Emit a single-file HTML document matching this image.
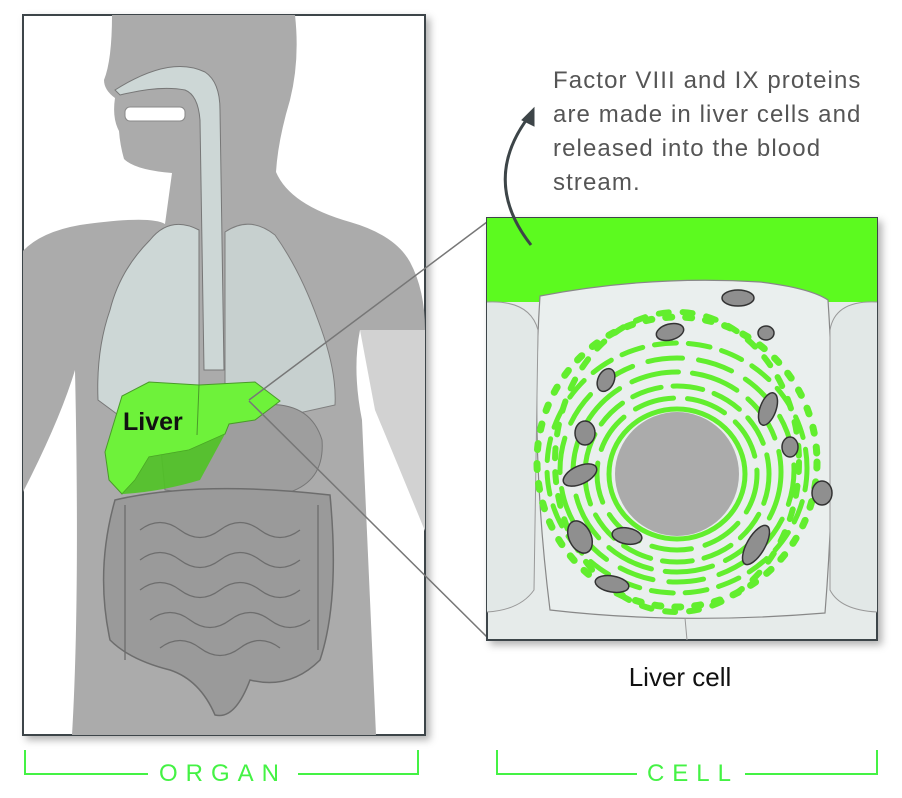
<!DOCTYPE html>
<html><head><meta charset="utf-8"><style>
html,body{margin:0;padding:0;background:#fff;}
svg{display:block;font-family:"Liberation Sans",sans-serif;}
</style></head><body>
<svg width="902" height="798" viewBox="0 0 902 798">
<defs>
<filter id="sh" x="-5%" y="-5%" width="115%" height="115%"><feDropShadow dx="4" dy="4" stdDeviation="4" flood-color="#000" flood-opacity="0.3"/></filter>
<clipPath id="lc"><rect x="23" y="15" width="402" height="720"/></clipPath>
<clipPath id="cc"><rect x="487" y="218" width="390" height="422"/></clipPath>
</defs>

<g>
<rect x="23" y="15" width="402" height="720" fill="#fff" stroke="#3d4548" stroke-width="2" filter="url(#sh)"/>
<g clip-path="url(#lc)">
<path d="M360 330 L425 330 L425 531 Q400 470 375 410 Z" fill="#d2d2d2"/>
<path d="M112 15 L295 15 Q300 60 290 100 Q278 140 276 172 Q290 205 350 222 Q395 235 410 262 Q425 290 425 330 L360 330 Q352 370 362 420 L376 735 L72 735 Q80 600 75 370 Q60 420 22 494 L22 252 Q40 232 80 225 Q150 215 165 224 L172 173 Q135 170 124 159 Q120 145 119 131 Q112 118 115 98 Q104 90 104 80 Q112 60 112 15 Z" fill="#ababab"/>
<path d="M199 230 Q170 215 150 240 Q120 270 110 310 Q96 350 98 400 L125 420 L199 400 Z" fill="#cdd7d6" stroke="#777" stroke-width="1"/>
<path d="M225 232 Q250 215 275 235 Q300 270 318 320 Q337 370 335 405 L290 415 L225 395 Z" fill="#cdd7d6" stroke="#777" stroke-width="1" opacity="0.85"/>
<path d="M115 90 Q170 55 205 72 Q220 82 220 110 L224 370 L204 370 L200 120 Q198 95 185 90 Q160 85 120 95 Z" fill="#cdd7d6" stroke="#777" stroke-width="1"/>
<rect x="125" y="107" width="60" height="14" rx="5" fill="#fff" stroke="#888" stroke-width="1"/>
<path d="M160 440 Q200 410 260 405 Q310 400 322 440 Q325 480 290 492 Q230 500 165 490 Z" fill="#9e9e9e" stroke="#777" stroke-width="1"/>
<path d="M115 500 Q200 480 330 495 Q340 600 320 660 Q290 690 250 680 Q235 720 215 715 Q200 680 170 670 Q130 660 110 640 Q95 570 115 500 Z" fill="#9a9a9a" stroke="#6d6d6d" stroke-width="1.5"/>
<g fill="none" stroke="#6d6d6d" stroke-width="1.3">
<path d="M140 530 Q160 515 180 530 T220 530 T260 530 T300 530"/>
<path d="M140 560 Q160 545 180 560 T220 560 T260 560 T300 560"/>
<path d="M140 590 Q160 575 180 590 T220 590 T260 590 T300 590"/>
<path d="M150 620 Q170 605 190 620 T230 620 T270 620 T310 620"/>
<path d="M160 648 Q180 633 200 648 T240 648 T280 648"/>
<path d="M125 505 L125 660"/><path d="M318 505 L318 650"/>
</g>
<path d="M105 452 L122 396 L149 382 L199 385 L255 382 L280 401 L255 420 L229 424 L225 434 L189 450 L149 457 L135 480 L122 494 L109 480 Z" fill="#6ef23a" stroke="#4a9a2a" stroke-width="1"/>
<path d="M149 457 L135 480 L122 494 Q160 492 200 480 L225 434 L189 450 Z" fill="#4fc324" opacity="0.9"/>
<path d="M199 385 L197 435" stroke="#4a9a2a" stroke-width="1"/>
<text x="123" y="430" font-size="25" font-weight="bold" fill="#111">Liver</text>
</g>
</g>
<line x1="249" y1="400" x2="487" y2="222" stroke="#777" stroke-width="1.5"/>
<line x1="249" y1="401" x2="487" y2="637" stroke="#777" stroke-width="1.5"/>

<g>
<rect x="487" y="218" width="390" height="422" fill="#e6ebea" stroke="#3d4548" stroke-width="2" filter="url(#sh)"/>
<g clip-path="url(#cc)">
<rect x="487" y="218" width="390" height="84" fill="#5cfa1f"/>
<path d="M540 296 Q650 275 760 282 Q810 288 828 300 Q838 450 825 613 Q680 625 550 610 Q530 450 540 296 Z" fill="#eaefee" stroke="#888" stroke-width="1.2"/>
<path d="M487 302 Q530 300 538 330 L534 590 Q520 610 487 612" fill="#e2e8e7" stroke="#999" stroke-width="1"/>
<path d="M877 302 Q835 300 830 330 L830 590 Q840 610 877 612" fill="#e2e8e7" stroke="#999" stroke-width="1"/>
<line x1="685" y1="618" x2="687" y2="640" stroke="#999"/>
<g fill="none" stroke="#62ee2e" stroke-width="5" stroke-linecap="round">
<ellipse cx="677" cy="474" rx="68" ry="65" stroke-width="5"/>
<ellipse cx="677" cy="474" rx="80" ry="76" stroke-dasharray="40 14"/>
<ellipse cx="677" cy="474" rx="92" ry="88" stroke-dasharray="30 12"/>
<ellipse cx="677" cy="472" rx="104" ry="100" stroke-dasharray="48 14"/>
<ellipse cx="677" cy="470" rx="117" ry="112" stroke-dasharray="35 16"/>
<ellipse cx="677" cy="468" rx="130" ry="125" stroke-dasharray="22 12"/>
<ellipse cx="677" cy="462" rx="122" ry="150" stroke-dasharray="10 14" stroke-width="6"/>
<ellipse cx="677" cy="462" rx="140" ry="145" stroke-dasharray="6 14" stroke-width="7"/>
</g>
<circle cx="677" cy="474" r="62" fill="#ababab"/>
<g fill="#8f8f8f" stroke="#333" stroke-width="1.5">
<ellipse cx="738" cy="298" rx="16" ry="8"/><ellipse cx="670" cy="332" rx="14" ry="8" transform="rotate(-15 670 332)"/>
<ellipse cx="766" cy="333" rx="8" ry="7"/><ellipse cx="606" cy="380" rx="8" ry="12" transform="rotate(25 606 380)"/>
<ellipse cx="768" cy="409" rx="8" ry="17" transform="rotate(20 768 409)"/><ellipse cx="585" cy="433" rx="10" ry="12"/>
<ellipse cx="790" cy="447" rx="8" ry="10"/><ellipse cx="580" cy="475" rx="18" ry="9" transform="rotate(-25 580 475)"/>
<ellipse cx="822" cy="493" rx="10" ry="12"/><ellipse cx="580" cy="537" rx="11" ry="17" transform="rotate(-25 580 537)"/>
<ellipse cx="627" cy="536" rx="15" ry="8" transform="rotate(10 627 536)"/><ellipse cx="756" cy="545" rx="9" ry="22" transform="rotate(30 756 545)"/>
<ellipse cx="612" cy="584" rx="17" ry="8" transform="rotate(10 612 584)"/>
</g>
</g>
</g>

<g fill="none" stroke="#3d4548" stroke-width="3">
<path d="M531 245 Q480 180 530 115"/>
<path d="M522 120 L534 108 L534 126 Z" fill="#3d4548" stroke-width="1"/>
</g>
<g font-size="24" fill="#555" letter-spacing="1.1">
<text x="553" y="88">Factor VIII and IX proteins</text>
<text x="553" y="122">are made in liver cells and</text>
<text x="553" y="156">released into the blood</text>
<text x="553" y="190">stream.</text>
</g>
<text x="680" y="686" font-size="26" fill="#111" text-anchor="middle">Liver cell</text>

<g fill="none" stroke="#44f244" stroke-width="2">
<path d="M25 750 L25 774 L148 774"/><path d="M298 774 L418 774 L418 750"/>
</g>
<text x="223" y="781" font-size="24" fill="#44f244" text-anchor="middle" letter-spacing="8">ORGAN</text>
<g fill="none" stroke="#44f244" stroke-width="2">
<path d="M497 750 L497 774 L637 774"/><path d="M745 774 L877 774 L877 750"/>
</g>
<text x="693" y="781" font-size="24" fill="#44f244" text-anchor="middle" letter-spacing="8">CELL</text>
</svg>
</body></html>
